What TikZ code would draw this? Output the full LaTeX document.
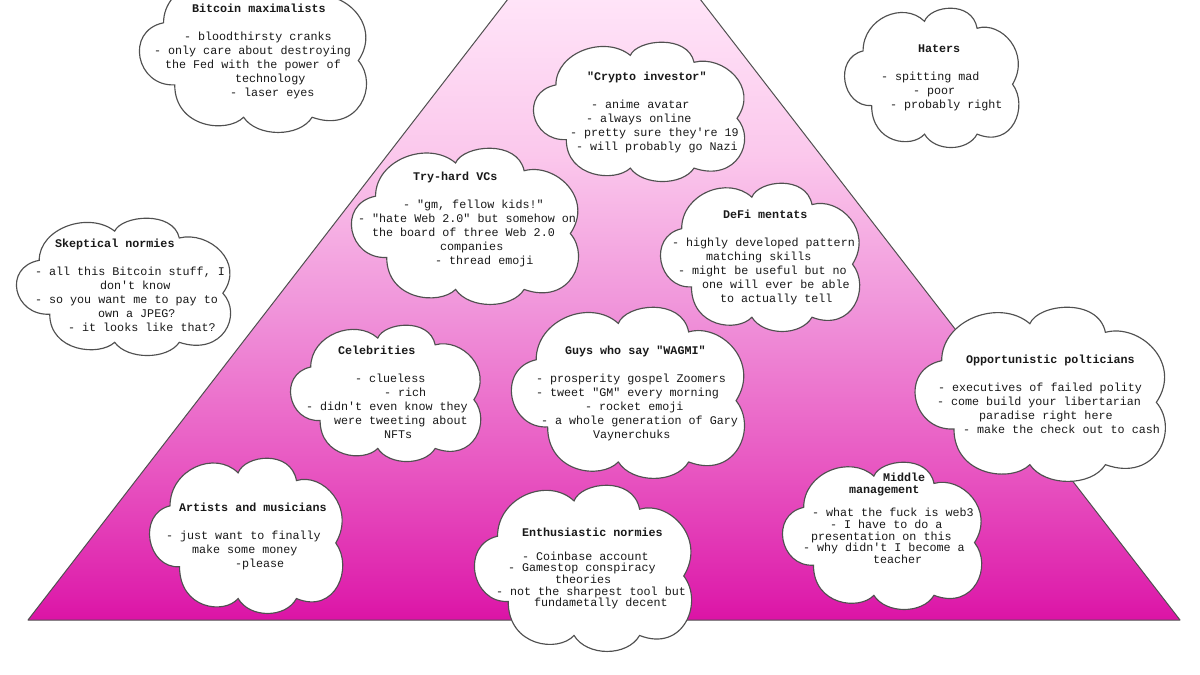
\documentclass[tikz,border=0pt]{standalone}
\usepackage{fontspec}
\setmonofont{Liberation Mono}
\definecolor{pb}{HTML}{DB13A5}
\definecolor{pc}{HTML}{DE20AC}
\definecolor{pl}{HTML}{E858C2}
\definecolor{pm}{HTML}{F094DA}
\definecolor{pu}{HTML}{FBC8EC}
\definecolor{pt}{HTML}{FFE4F8}
\definecolor{edge}{HTML}{505050}
\pgfdeclareverticalshading{pyr}{100bp}{color(0bp)=(pb);color(25bp)=(pb);color(27bp)=(pc);color(37.5bp)=(pl);color(50bp)=(pm);color(62.5bp)=(pu);color(75bp)=(pt);color(100bp)=(pt)}
\tikzset{
  cloudline/.style={draw=edge,line width=1.15pt,fill=white},
  pyramid/.style={draw=edge,line width=1pt,line join=round,shading=pyr},
}
\newcommand\cloudpath{(78,161) .. controls (78,38) and (253,-27) .. (343,50)
 .. controls (368,-10) and (548,-30) .. (570,76)
 .. controls (673,48) and (803,168) .. (723,286)
 .. controls (793,368) and (723,528) .. (570,473)
 .. controls (528,540) and (388,540) .. (343,473)
 .. controls (288,528) and (115,508) .. (115,366)
 .. controls (-12,373) and (-52,188) .. (78,161) -- cycle}
\newcommand\cloudat[4]{%
 \pgfmathsetmacro\cw{(#3-#1)/755}\pgfmathsetmacro\ch{(#4-#2)/525}%
 \begin{scope}[xshift=#1pt,yshift=-#2pt,x=\cw pt,y=-\ch pt]
 \path[cloudline] \cloudpath;
 \end{scope}}
\newcommand\curx{0}
\newcommand\LL[2]{\hspace*{\dimexpr #1pt-\curx pt\relax}#2}
\newcommand\cloudtext[5]{%
 \gdef\curx{#2}%
 \node[anchor=north west,inner sep=0pt,align=left,text=black!90,
   font={\ttfamily\fontsize{11.72}{#4}\selectfont\lineskiplimit=-6pt\relax}] (#1)
   at (#2-0.2,#3-10.5) {\rule{0pt}{10pt}#5};}
\begin{document}
\begin{tikzpicture}[x=1pt,y=-1pt]
\useasboundingbox (0,0) rectangle (1200,675);
\begin{scope}
\clip (0,0) rectangle (1200,675);
\path[pyramid] (28,620) -- (508,-1) -- (700,-1) -- (1180,620) -- cycle;
\end{scope}
\begin{scope}
\clip (0,0) rectangle (1200,675);
\cloudat{140}{-26}{368}{133}
\end{scope}
\cloudat{534}{42}{746}{182}
\cloudat{845}{8}{1020}{148}
\cloudat{352}{148}{580}{305}
\cloudat{661}{183}{861}{332}
\cloudat{17}{218}{232}{356}
\cloudat{291}{325}{482}{462}
\cloudat{512}{307}{746}{479}
\cloudat{915.7}{307}{1167}{482}
\cloudat{783}{462}{983}{610}
\cloudat{475}{485}{693}{652}
\cloudat{150}{458}{344}{614}

\cloudtext{bitcoin}{154}{13}{14}{\LL{192}{\textbf{Bitcoin maximalists}}\\ \mbox{}\\ \LL{184}{- bloodthirsty cranks}\\ \LL{154}{- only care about destroying}\\ \LL{165}{the Fed with the power of}\\ \LL{235}{technology}\\ \LL{230}{- laser eyes}}
\cloudtext{crypto}{570}{81}{14}{\LL{587}{\textbf{"Crypto investor"}}\\ \mbox{}\\ \LL{591}{- anime avatar}\\ \LL{586}{- always online}\\ \LL{570}{- pretty sure they're 19}\\ \LL{576}{- will probably go Nazi}}
\cloudtext{haters}{881}{53}{14}{\LL{918}{\textbf{Haters}}\\ \mbox{}\\ \LL{881}{- spitting mad}\\ \LL{913}{- poor}\\ \LL{890}{- probably right}}
\cloudtext{vcs}{358}{181}{14}{\LL{413}{\textbf{Try-hard VCs}}\\ \mbox{}\\ \LL{403}{- "gm, fellow kids!"}\\ \LL{358}{- "hate Web 2.0" but somehow on}\\ \LL{372}{the board of three Web 2.0}\\ \LL{440}{companies}\\ \LL{435}{- thread emoji}}
\cloudtext{defi}{672}{219}{14}{\LL{723}{\textbf{DeFi mentats}}\\ \mbox{}\\ \LL{672}{- highly developed pattern}\\ \LL{706}{matching skills}\\ \LL{678}{- might be useful but no}\\ \LL{702}{one will ever be able}\\ \LL{720}{to actually tell}}
\cloudtext{skeptical}{35}{248}{14}{\LL{55}{\textbf{Skeptical normies}}\\ \mbox{}\\ \LL{35}{- all this Bitcoin stuff, I}\\ \LL{100}{don't know}\\ \LL{35}{- so you want me to pay to}\\ \LL{98}{own a JPEG?}\\ \LL{68}{- it looks like that?}}
\cloudtext{celebs}{306}{355}{14}{\LL{338}{\textbf{Celebrities}}\\ \mbox{}\\ \LL{355}{- clueless}\\ \LL{384}{- rich}\\ \LL{306}{- didn't even know they}\\ \LL{334}{were tweeting about}\\ \LL{384}{NFTs}}
\cloudtext{wagmi}{536}{355}{14}{\LL{565}{\textbf{Guys who say "WAGMI"}}\\ \mbox{}\\ \LL{536}{- prosperity gospel Zoomers}\\ \LL{536}{- tweet "GM" every morning}\\ \LL{585}{- rocket emoji}\\ \LL{541}{- a whole generation of Gary}\\ \LL{593}{Vaynerchuks}}
\cloudtext{pols}{937}{364}{14}{\LL{966}{\textbf{Opportunistic polticians}}\\ \mbox{}\\ \LL{938}{- executives of failed polity}\\ \LL{937}{- come build your libertarian}\\ \LL{979}{paradise right here}\\ \LL{963}{- make the check out to cash}}
\cloudtext{middle}{803}{482}{11.7}{\LL{883}{\textbf{Middle}}\\ \LL{849}{\textbf{management}}\\ \mbox{}\\ \LL{812}{- what the fuck is web3}\\ \LL{830}{- I have to do a}\\ \LL{811}{presentation on this}\\ \LL{803}{- why didn't I become a}\\ \LL{873}{teacher}}
\cloudtext{enth}{496}{537}{11.7}{\LL{522}{\textbf{Enthusiastic normies}}\\ \mbox{}\\ \LL{522}{- Coinbase account}\\ \LL{508}{- Gamestop conspiracy}\\ \LL{555}{theories}\\ \LL{496}{- not the sharpest tool but}\\ \LL{534}{fundametally decent}}
\cloudtext{artists}{166}{512}{14}{\LL{179}{\textbf{Artists and musicians}}\\ \mbox{}\\ \LL{166}{- just want to finally}\\ \LL{192}{make some money}\\ \LL{235}{-please}}
\end{tikzpicture}
\end{document}
